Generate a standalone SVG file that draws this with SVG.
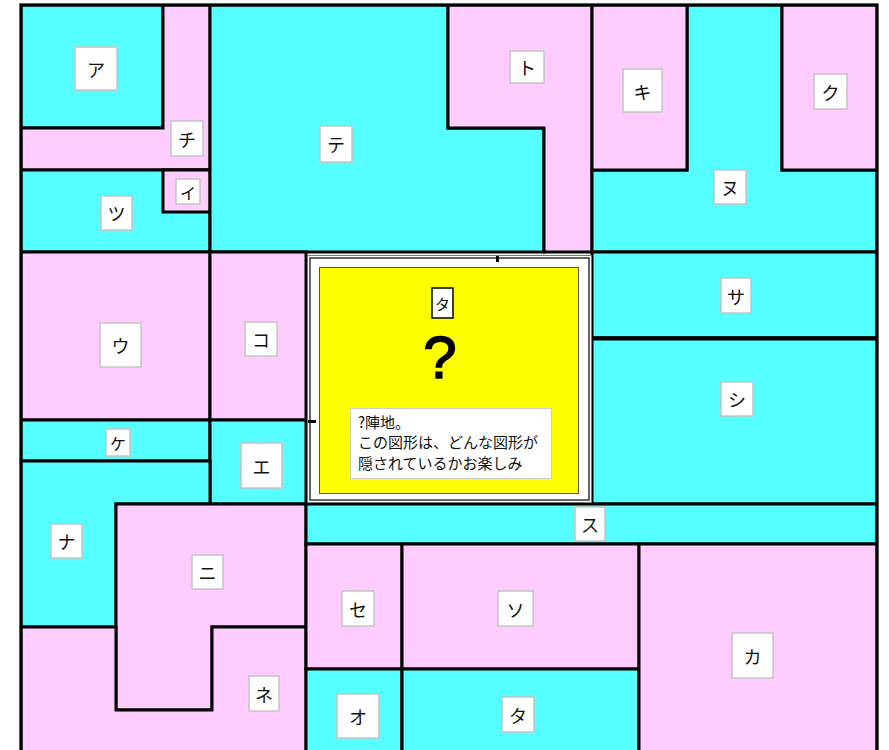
<svg xmlns="http://www.w3.org/2000/svg" width="889" height="750" viewBox="0 0 889 750">
<style>
.c{fill:#55ffff;stroke:#000;stroke-width:3}
.p{fill:#ffccff;stroke:#000;stroke-width:3}
.lb{fill:#fff;stroke:#c4c4c4;stroke-width:1.5}
.t{font-family:"Noto Sans CJK JP","Noto Sans",sans-serif;font-size:18px;fill:#111;text-anchor:middle;dominant-baseline:central}
.m{font-family:"Noto Sans CJK JP","Noto Sans",sans-serif;font-size:15px;fill:#111}
</style>
<rect width="889" height="750" fill="#fff"/>
<g id="regions">
<g id="r-a"><rect class="c" x="21" y="5" width="142" height="123"/></g>
<g id="r-chi"><polygon class="p" points="163,5 210,5 210,170 21,170 21,128 163,128"/></g>
<g id="r-tsu"><rect class="c" x="21" y="170" width="189" height="82"/></g>
<g id="r-i"><rect class="p" x="163" y="170" width="47" height="42"/></g>
<g id="r-te"><polygon class="c" points="210,5 448,5 448,128 544,128 544,252 210,252"/></g>
<g id="r-to"><polygon class="p" points="448,5 592,5 592,252 544,252 544,128 448,128"/></g>
<g id="r-nu"><polygon class="c" points="687,5 782,5 782,170 877,170 877,252 592,252 592,170 687,170"/></g>
<g id="r-ki"><rect class="p" x="592" y="5" width="95" height="165"/></g>
<g id="r-ku"><rect class="p" x="782" y="5" width="95" height="165"/></g>
<g id="r-u"><rect class="p" x="21" y="252" width="189" height="168"/></g>
<g id="r-ko"><rect class="p" x="210" y="252" width="96" height="168"/></g>
<g id="r-sa"><rect class="c" x="592" y="252" width="285" height="86"/></g>
<g id="r-shi"><rect class="c" x="592" y="338" width="285" height="166"/></g>
<g id="r-ke"><rect class="c" x="21" y="420" width="189" height="41"/></g>
<g id="r-e"><rect class="c" x="210" y="420" width="96" height="84"/></g>
<g id="r-na"><polygon class="c" points="21,461 210,461 210,504 116,504 116,627 21,627"/></g>
<g id="r-ni"><polygon class="p" points="116,504 306,504 306,627 212,627 212,710 116,710"/></g>
<g id="r-ne"><polygon class="p" points="21,627 116,627 116,710 212,710 212,627 306,627 306,760 21,760"/></g>
<g id="r-su"><rect class="c" x="306" y="504" width="571" height="40"/></g>
<g id="r-se"><rect class="p" x="306" y="544" width="96" height="125"/></g>
<g id="r-so"><rect class="p" x="402" y="544" width="237" height="125"/></g>
<g id="r-o"><rect class="c" x="306" y="669" width="96" height="91"/></g>
<g id="r-ta"><rect class="c" x="402" y="669" width="237" height="91"/></g>
<g id="r-ka"><rect class="p" x="639" y="544" width="238" height="216"/></g>
</g>
<line x1="592" y1="338.5" x2="877" y2="338.5" stroke="#000" stroke-width="4"/>
<rect x="19.5" y="3.5" width="859" height="760" fill="none" stroke="#bbb" stroke-width="1"/>
<rect x="21" y="5" width="856" height="760" fill="none" stroke="#000" stroke-width="3"/>
<g id="center">
<rect x="307.5" y="255.5" width="284" height="247" fill="#fff" stroke="#777" stroke-width="1"/>
<rect x="310" y="258" width="279" height="242" fill="none" stroke="#333" stroke-width="1.5"/>
<rect x="496" y="256" width="3" height="6" fill="#000"/>
<rect x="308" y="420" width="8" height="3" fill="#000"/>
<rect x="319.5" y="267.5" width="259" height="226" fill="#ffff00" stroke="#555" stroke-width="1"/>
<rect x="432" y="288" width="21" height="30" fill="#fff" stroke="#000" stroke-width="1.5"/>
<text class="t" x="442.5" y="303" style="font-size:15px">タ</text>
<text x="440" y="378" font-family="Liberation Sans, Arial, sans-serif" font-size="60" text-anchor="middle" fill="#000" stroke="#000" stroke-width="1.5">?</text>
<rect x="350.5" y="408.5" width="201" height="70" fill="#fff" stroke="#ccc" stroke-width="1"/>
<text class="m" x="358" y="428">?陣地。</text>
<text class="m" x="358" y="448">この図形は、どんな図形が</text>
<text class="m" x="358" y="469">隠されているかお楽しみ</text>
</g>
<g id="labels">
<g id="l-a"><rect class="lb" x="75" y="47" width="42" height="43"/><text class="t" x="96" y="68.5">ア</text></g>
<g id="l-chi"><rect class="lb" x="171" y="121" width="32" height="35"/><text class="t" x="187" y="138.5">チ</text></g>
<g id="l-i"><rect class="lb" x="176" y="179" width="24" height="25"/><text class="t" x="188" y="191.5" style="font-size:16px">イ</text></g>
<g id="l-tsu"><rect class="lb" x="101" y="196" width="31" height="34"/><text class="t" x="116.5" y="213">ツ</text></g>
<g id="l-te"><rect class="lb" x="320" y="126" width="32" height="36"/><text class="t" x="336" y="144">テ</text></g>
<g id="l-to"><rect class="lb" x="510" y="51" width="34" height="32"/><text class="t" x="527" y="67">ト</text></g>
<g id="l-ki"><rect class="lb" x="623" y="69" width="39" height="43"/><text class="t" x="642.5" y="90.5">キ</text></g>
<g id="l-ku"><rect class="lb" x="814" y="74" width="33" height="35"/><text class="t" x="830.5" y="91.5">ク</text></g>
<g id="l-nu"><rect class="lb" x="714" y="170" width="32" height="34"/><text class="t" x="730" y="187">ヌ</text></g>
<g id="l-u"><rect class="lb" x="100" y="323" width="41" height="44"/><text class="t" x="120.5" y="345">ウ</text></g>
<g id="l-ko"><rect class="lb" x="245" y="322" width="32" height="34"/><text class="t" x="261" y="339">コ</text></g>
<g id="l-ke"><rect class="lb" x="106" y="429" width="24" height="27"/><text class="t" x="118" y="442.5" style="font-size:16px">ケ</text></g>
<g id="l-e"><rect class="lb" x="241" y="443" width="41" height="45"/><text class="t" x="261.5" y="465.5">エ</text></g>
<g id="l-sa"><rect class="lb" x="721" y="278" width="30" height="35"/><text class="t" x="736" y="295.5">サ</text></g>
<g id="l-shi"><rect class="lb" x="721" y="382" width="32" height="34"/><text class="t" x="737" y="399">シ</text></g>
<g id="l-na"><rect class="lb" x="51" y="524" width="31" height="34"/><text class="t" x="66.5" y="541">ナ</text></g>
<g id="l-ni"><rect class="lb" x="192" y="555" width="31" height="34"/><text class="t" x="207.5" y="572">ニ</text></g>
<g id="l-ne"><rect class="lb" x="249" y="676" width="30" height="35"/><text class="t" x="264" y="693.5">ネ</text></g>
<g id="l-su"><rect class="lb" x="575" y="507" width="30" height="34"/><text class="t" x="590" y="524">ス</text></g>
<g id="l-se"><rect class="lb" x="342" y="591" width="32" height="35"/><text class="t" x="358" y="608.5">セ</text></g>
<g id="l-so"><rect class="lb" x="498" y="591" width="35" height="35"/><text class="t" x="515.5" y="608.5">ソ</text></g>
<g id="l-o"><rect class="lb" x="337" y="694" width="42" height="44"/><text class="t" x="358" y="716">オ</text></g>
<g id="l-ta"><rect class="lb" x="502" y="697" width="32" height="35"/><text class="t" x="518" y="714.5">タ</text></g>
<g id="l-ka"><rect class="lb" x="732" y="633" width="41" height="45"/><text class="t" x="752.5" y="655.5">カ</text></g>
</g>
<g id="connectors"></g>
</svg>
